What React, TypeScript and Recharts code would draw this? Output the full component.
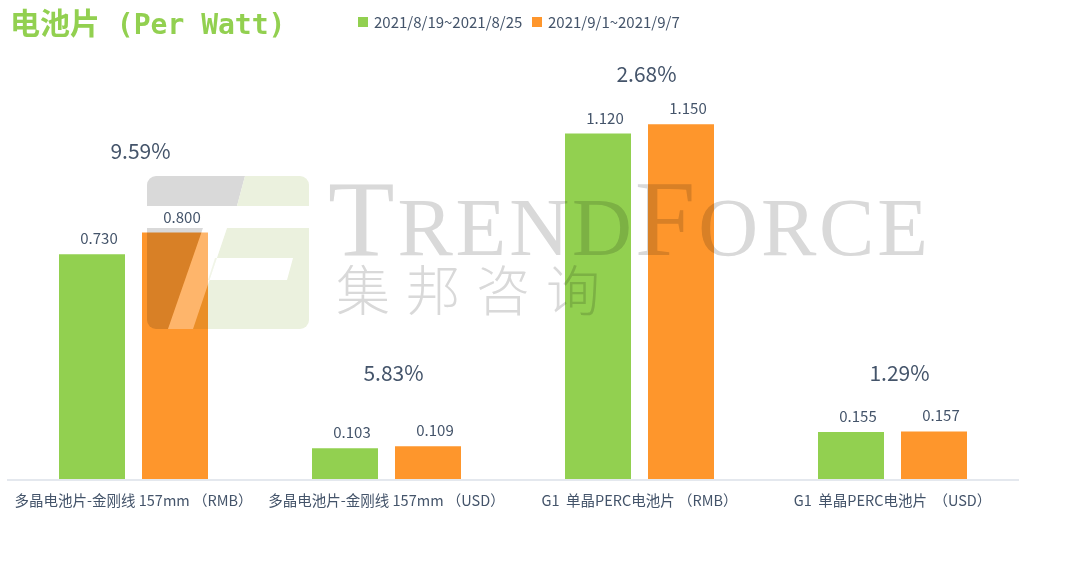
import React from 'react';
import { ComposedChart, Bar, Line, XAxis, YAxis, LabelList } from 'recharts';

// ---- data ----
const categories = [
  '多晶电池片-金刚线 157mm （RMB）',
  '多晶电池片-金刚线 157mm （USD）',
  'G1  单晶PERC电池片 （RMB）',
  'G1  单晶PERC电池片  （USD）',
];
const seriesNames = ['2021/8/19~2021/8/25', '2021/9/1~2021/9/7'];
const week1 = [0.73, 0.103, 1.12, 0.155];
const week2 = [0.8, 0.109, 1.15, 0.157];
const changeLabels = ['9.59%', '5.83%', '2.68%', '1.29%'];
// value level (in chart units) at which each change label sits
const changeLevel = [1.037, 0.32, 1.286, 0.32];
const yDomain = [0, 1.4];

const GREEN = '#92D050';
const ORANGE = '#FE962C';
const TEXT = '#44546A';
const CJK = "'Noto Sans CJK SC', 'Noto Sans', sans-serif";

const data = categories.map((c, i) => ({
  name: c,
  w1: week1[i],
  w2: week2[i],
  level: changeLevel[i],
  pct: changeLabels[i],
}));

const CategoryTick = (props: any) => {
  const { x, y, payload } = props;
  return (
    <text
      x={x}
      y={y + 26}
      textAnchor="middle"
      fill={TEXT}
      fontSize={14.5}
      fontFamily={CJK}
      style={{ whiteSpace: 'pre' }}
    >
      {payload.value}
    </text>
  );
};

const ValueLabel = (props: any) => {
  const { x, y, width, value } = props;
  return (
    <text
      x={Number(x) + Number(width) / 2 + 7}
      y={Number(y) - 10}
      textAnchor="middle"
      fill={TEXT}
      fontSize={15}
      fontFamily={CJK}
    >
      {Number(value).toFixed(3)}
    </text>
  );
};

const PctLabel = (props: any) => {
  const { x, y, value } = props;
  return (
    <text
      x={Number(x) + 7}
      y={Number(y)}
      textAnchor="middle"
      fill={TEXT}
      fontSize={21}
      fontFamily={CJK}
    >
      {value}
    </text>
  );
};

export default function App() {
  return (
    <div style={{ position: 'absolute', left: 0, top: 0, width: 1080, height: 562, background: '#fff', overflow: 'hidden' }}>
      <ComposedChart
        width={1080}
        height={562}
        data={data}
        margin={{ top: 47, right: 61, bottom: 0, left: 7 }}
        barSize={66}
        barGap={17}
      >
        <XAxis
          dataKey="name"
          height={82}
          interval={0}
          tickLine={false}
          tickSize={0}
          tickMargin={0}
          axisLine={{ stroke: '#E4E8EE', strokeWidth: 2 }}
          tick={<CategoryTick />}
        />
        <YAxis hide domain={yDomain} />
        <Bar dataKey="w1" name={seriesNames[0]} fill={GREEN} isAnimationActive={false}>
          <LabelList dataKey="w1" content={<ValueLabel />} />
        </Bar>
        <Bar dataKey="w2" name={seriesNames[1]} fill={ORANGE} isAnimationActive={false}>
          <LabelList dataKey="w2" content={<ValueLabel />} />
        </Bar>
        <Line
          dataKey="level"
          stroke="none"
          dot={false}
          activeDot={false}
          legendType="none"
          isAnimationActive={false}
        >
          <LabelList dataKey="pct" content={<PctLabel />} />
        </Line>
      </ComposedChart>

      {/* watermark (multiplied over the chart) */}
      <svg
        width={1080}
        height={562}
        style={{ position: 'absolute', left: 0, top: 0, mixBlendMode: 'multiply', pointerEvents: 'none' }}
      >
        <defs>
          <clipPath id="logoClip">
            <rect x={147} y={176} width={162} height={153} rx={9} />
          </clipPath>
        </defs>
        <g clipPath="url(#logoClip)">
          <polygon points="147,176 245,176 237,206 147,206" fill="#D9D9D9" />
          <polygon points="245,176 309,176 309,206 237,206" fill="#EBF1DE" />
          <polygon points="147,228 203,228 168,329 147,329" fill="#D9D9D9" />
          <path
            d="M227,228 L309,228 L309,329 L193,329 Z M215,258 L293,258 L287,280 L208,280 Z"
            fill="#EBF1DE"
            fillRule="evenodd"
          />
        </g>
        <text
          x={328}
          y={255}
          fontFamily="'Liberation Serif', 'DejaVu Serif', serif"
          fill="#D9D9D9"
          textLength={600}
          lengthAdjust="spacing"
        >
          <tspan fontSize={109}>T</tspan>
          <tspan fontSize={83}>REND</tspan>
          <tspan fontSize={109}>F</tspan>
          <tspan fontSize={83}>ORCE</tspan>
        </text>
        <text x={336} y={311} fontFamily={CJK} fontWeight={300} fontSize={54} fill="#D9D9D9" letterSpacing={16}>
          集邦咨询
        </text>
      </svg>

      {/* light stripe of logo + title + legend */}
      <svg width={1080} height={562} style={{ position: 'absolute', left: 0, top: 0, pointerEvents: 'none' }}>
        <polygon points="203,228 227,228 193,329 168,329" fill="#FFFFFF" opacity={0.3} />
        <text x={10} y={34} fill={GREEN} fontWeight="bold" style={{ whiteSpace: 'pre' }}>
          <tspan fontFamily={CJK} fontSize={30}>电池片</tspan>
          <tspan fontFamily="'DejaVu Sans Mono', monospace" fontSize={28}> (Per Watt)</tspan>
        </text>
        <rect x={358} y={17} width={10} height={10} fill={GREEN} />
        <text x={374} y={28} fill={TEXT} fontSize={15} fontFamily={CJK}>{seriesNames[0]}</text>
        <rect x={532} y={17} width={10} height={10} fill={ORANGE} />
        <text x={548} y={28} fill={TEXT} fontSize={15} fontFamily={CJK}>{seriesNames[1]}</text>
      </svg>
    </div>
  );
}
